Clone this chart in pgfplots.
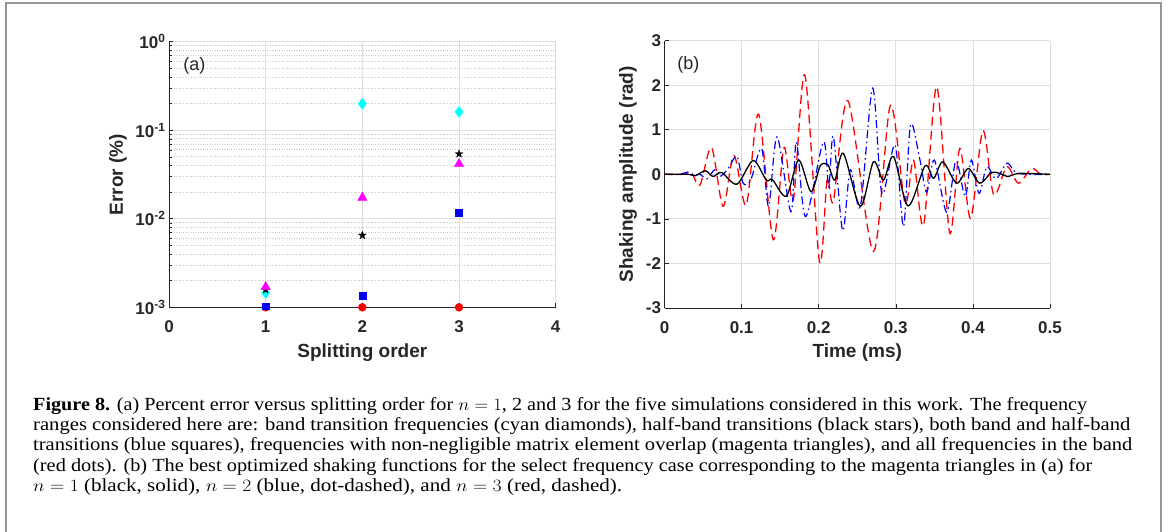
\documentclass[border=0pt]{standalone}
\usepackage{fontspec}
\setmainfont{Liberation Sans}
\newfontfamily\capfont{Liberation Serif}
\usepackage{graphicx}
\usepackage{pgfplots}
\pgfplotsset{compat=1.18}
\definecolor{gridc}{RGB}{222,222,222}
\definecolor{mgridc}{RGB}{200,200,200}
\definecolor{axc}{RGB}{38,38,38}
\definecolor{framec}{RGB}{150,150,150}
\definecolor{mcyan}{RGB}{0,255,255}
\definecolor{mmag}{RGB}{255,0,255}
\definecolor{mred}{RGB}{255,0,0}
\definecolor{mblue}{RGB}{0,0,255}

\pgfdeclareplotmark{fivestar}{%
  \pgfpathmoveto{\pgfpointpolar{90}{\pgfplotmarksize}}%
  \pgfpathlineto{\pgfpointpolar{126}{0.42*\pgfplotmarksize}}%
  \pgfpathlineto{\pgfpointpolar{162}{\pgfplotmarksize}}%
  \pgfpathlineto{\pgfpointpolar{198}{0.42*\pgfplotmarksize}}%
  \pgfpathlineto{\pgfpointpolar{234}{\pgfplotmarksize}}%
  \pgfpathlineto{\pgfpointpolar{270}{0.42*\pgfplotmarksize}}%
  \pgfpathlineto{\pgfpointpolar{306}{\pgfplotmarksize}}%
  \pgfpathlineto{\pgfpointpolar{342}{0.42*\pgfplotmarksize}}%
  \pgfpathlineto{\pgfpointpolar{18}{\pgfplotmarksize}}%
  \pgfpathlineto{\pgfpointpolar{54}{0.42*\pgfplotmarksize}}%
  \pgfpathclose
  \pgfusepathqfillstroke
}

\pgfplotsset{
  mystyle/.style={
    scale only axis,
    axis lines=left,
    axis line style={-, axc, line width=0.8pt},
    every outer x axis line/.append style={-},
    every outer y axis line/.append style={-},
    tick align=inside,
    major tick length=4pt, minor tick length=2.5pt,
    tick style={axc, line width=0.6pt},
    grid=major,
    major grid style={gridc, line width=0.8pt},
    tick label style={font=\fontsize{17}{17}\selectfont\bfseries, text=axc},
    label style={font=\fontsize{19}{19}\selectfont\bfseries, text=axc},
    xticklabel style={anchor=base, yshift=-25.5pt},
    /pgf/number format/assume math mode=true,
  }
}

\begin{document}
\begin{tikzpicture}[x=1pt,y=1pt]
\path[use as bounding box] (0pt,0pt) rectangle (1168pt,531pt);
\draw[framec, line width=1.4pt] (6pt,-5pt) -- (6pt,528pt) -- (1161pt,528pt) -- (1161pt,-5pt);

% ---------------- panel (a) ----------------
\begin{axis}[mystyle,
  at={(169pt,223.7pt)}, anchor=south west,
  width=386.7pt, height=265.6pt,
  xmin=0, xmax=4, ymode=log, ymin=1e-3, ymax=1,
  clip=false,
  xtick={0,1,2,3,4}, xticklabels={0,1,2,3,4},
  ytick={0.001,0.01,0.1,1},
  yticklabels={10\textsuperscript{-3},10\textsuperscript{-2},10\textsuperscript{-1},10\textsuperscript{0}},
  yminorgrids=true,
  minor grid style={mgridc, dotted, line width=0.8pt},
  xlabel={Splitting order},
  ylabel={Error (\%)},
  xlabel style={at={(axis description cs:0.5,0)}, anchor=base, yshift=-50pt},
  ylabel style={at={(axis description cs:-0.119,0.5)}, anchor=base, rotate=0},
]
\addplot[only marks, mark=*, mark size=4pt, mred, mark options={fill=mred, draw=mred}]
  coordinates {(1,0.001) (2,0.001) (3,0.001)};
\addplot[only marks, mark=diamond*, mark size=5.5pt, mcyan, mark options={fill=mcyan, draw=mcyan}]
  coordinates {(1,0.00145) (2,0.199) (3,0.161)};
\addplot[only marks, mark=fivestar, mark size=4.2pt, black, mark options={fill=black, draw=black, line width=0.2pt}]
  coordinates {(1,0.00158) (2,0.0065) (3,0.054)};
\addplot[only marks, mark=square*, mark size=3.4pt, mblue, mark options={fill=mblue, draw=mblue}]
  coordinates {(1,0.00103) (2,0.00136) (3,0.0117)};
\addplot[only marks, mark=triangle*, mark size=5.5pt, mmag, mark options={fill=mmag, draw=mmag}]
  coordinates {(1,0.0017) (2,0.0173) (3,0.0416)};
\node[anchor=west, font=\fontsize{18}{18}\selectfont, text=axc] at (rel axis cs:0.028,0.91) {(a)};
\end{axis}

% ---------------- panel (b) ----------------
\begin{axis}[mystyle,
  at={(664.5pt,223pt)}, anchor=south west,
  width=385.5pt, height=267.4pt,
  xmin=0, xmax=0.5, ymin=-3, ymax=3,
  xtick={0,0.1,0.2,0.3,0.4,0.5}, xticklabels={0,0.1,0.2,0.3,0.4,0.5},
  ytick={-3,-2,-1,0,1,2,3}, yticklabels={-3,-2,-1,0,1,2,3},
  xlabel={Time (ms)},
  ylabel={Shaking amplitude (rad)},
  xlabel style={at={(axis description cs:0.5,0)}, anchor=base, yshift=-49pt},
  ylabel style={at={(axis description cs:-0.082,0.5)}, anchor=base, rotate=0},
]
\addplot[mred, smooth, line width=1.3pt, dash pattern=on 9pt off 5pt] coordinates {
(0,0) (0.025,0) (0.035,0.03) (0.046,-0.24) (0.061,0.6) (0.076,-0.72) (0.090,0.43)
(0.106,-0.69) (0.122,1.35) (0.141,-1.47) (0.155,0.6) (0.167,-0.58) (0.182,2.23)
(0.201,-1.96) (0.211,-0.1) (0.219,-0.6) (0.238,1.65) (0.271,-1.73) (0.293,1.55)
(0.312,-0.65) (0.323,0.32) (0.336,-1.14) (0.353,1.97) (0.370,-1.32) (0.383,0.58)
(0.397,-0.99) (0.413,0.98) (0.427,-0.46) (0.444,0.17) (0.459,-0.2) (0.476,0.13)
(0.488,0) (0.5,0)};
\addplot[mblue, smooth, line width=1.2pt, dash pattern=on 8pt off 3.5pt on 1.5pt off 3.5pt] coordinates {
(0,0) (0.02,0) (0.03,0.05) (0.038,-0.02) (0.046,0.0) (0.055,-0.1) (0.065,0.1)
(0.072,-0.05) (0.082,0.12) (0.094,0.4) (0.102,-0.2) (0.112,-0.12) (0.126,0.58)
(0.135,-0.72) (0.146,0.84) (0.164,-0.84) (0.171,0.73) (0.183,-0.95) (0.206,0.73)
(0.213,-0.28) (0.219,0.86) (0.231,-1.26) (0.241,0.1) (0.254,-0.72) (0.270,1.93)
(0.282,-0.43) (0.299,0.66) (0.310,-1.17) (0.319,1.1) (0.331,0.35) (0.340,-0.4)
(0.350,0.32) (0.366,-0.85) (0.378,0.3) (0.390,-0.5) (0.398,0.32) (0.408,-0.43)
(0.418,0.17) (0.43,-0.1) (0.444,0.25) (0.455,0.05) (0.47,0) (0.5,0)};
\addplot[black, smooth, line width=1.3pt] coordinates {
(0,0) (0.03,0) (0.04,-0.03) (0.053,0.08) (0.063,-0.05) (0.074,0.04) (0.094,-0.22)
(0.115,0.31) (0.132,-0.13) (0.140,-0.12) (0.158,-0.49) (0.174,0.32) (0.190,-0.39)
(0.202,0.19) (0.212,0.21) (0.221,-0.13) (0.232,0.47) (0.254,-0.72) (0.271,0.28)
(0.284,-0.13) (0.297,0.40) (0.316,-0.71) (0.338,0.19) (0.349,-0.09) (0.361,0.28)
(0.379,-0.2) (0.394,0.13) (0.409,-0.2) (0.424,0.04) (0.435,0.02) (0.445,-0.05)
(0.46,0.02) (0.5,0)};
\node[anchor=west, font=\fontsize{18}{18}\selectfont, text=axc] at (rel axis cs:0.024,0.91) {(b)};
\end{axis}

% ---------------- caption ----------------
\node[anchor=base west, inner sep=0] at (33pt,121pt) {\resizebox{1054pt}{\height}{\capfont\fontsize{18.5}{20}\selectfont\textbf{Figure 8.} (a) Percent error versus splitting order for $n = 1$, 2 and 3 for the five simulations considered in this work. The frequency}};
\node[anchor=base west, inner sep=0] at (33pt,101pt) {\resizebox{1097pt}{\height}{\capfont\fontsize{18.5}{20}\selectfont ranges considered here are: band transition frequencies (cyan diamonds), half-band transitions (black stars), both band and half-band}};
\node[anchor=base west, inner sep=0] at (33pt,80.5pt) {\resizebox{1099pt}{\height}{\capfont\fontsize{18.5}{20}\selectfont transitions (blue squares), frequencies with non-negligible matrix element overlap (magenta triangles), and all frequencies in the band}};
\node[anchor=base west, inner sep=0] at (33pt,60pt) {\resizebox{1059pt}{\height}{\capfont\fontsize{18.5}{20}\selectfont (red dots). (b) The best optimized shaking functions for the select frequency case corresponding to the magenta triangles in (a) for}};
\node[anchor=base west, inner sep=0] at (33pt,40pt) {\resizebox{589pt}{\height}{\capfont\fontsize{18.5}{20}\selectfont $n = 1$ (black, solid), $n = 2$ (blue, dot-dashed), and $n = 3$ (red, dashed).}};
\end{tikzpicture}
\end{document}
